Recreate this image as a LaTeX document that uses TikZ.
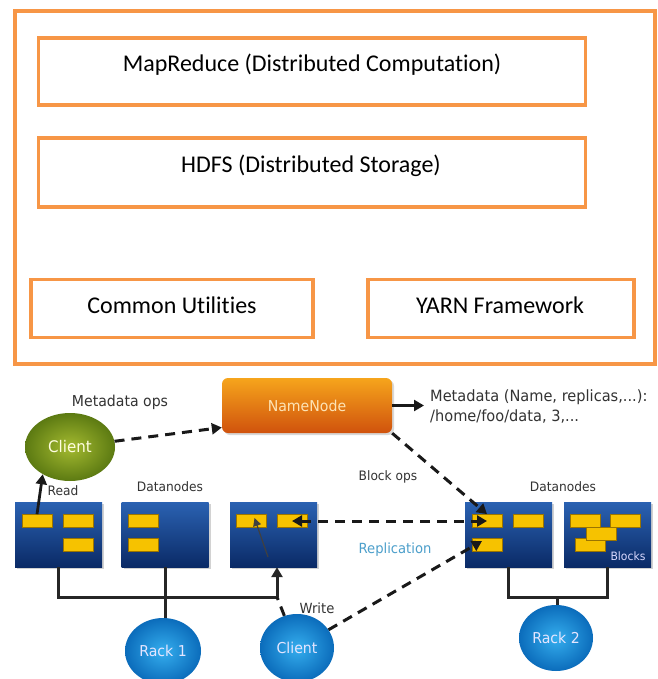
\documentclass[tikz,border=0pt]{standalone}
\usepackage{fontspec}
\setmainfont{Carlito}[Ligatures={NoCommon}]
\newfontfamily\dv[FakeStretch=0.94]{DejaVu Sans}
\usetikzlibrary{shapes.geometric,arrows.meta,shadows}
\definecolor{ora}{HTML}{F79646}
\definecolor{navyT}{HTML}{2B62B2}
\definecolor{navyB}{HTML}{0A2A66}
\definecolor{blkY}{HTML}{F6C200}
\definecolor{blkB}{HTML}{9A7400}
\definecolor{grnIn}{HTML}{A4BA30}
\definecolor{grnOut}{HTML}{5C7A12}
\definecolor{bluIn}{HTML}{35AEEE}
\definecolor{bluOut}{HTML}{0B6CBB}
\definecolor{nnT}{HTML}{F6A51C}
\definecolor{nnB}{HTML}{D0520D}
\definecolor{nnTxt}{HTML}{FDE3B5}
\definecolor{repl}{HTML}{4C9FCB}
\definecolor{labc}{HTML}{333333}
\begin{document}
\begin{tikzpicture}[x=1pt,y=-1pt,
  obox/.style={draw=ora, line width=3.5pt, rectangle, inner sep=0pt},
  toptext/.style={font=\fontsize{24}{28}\selectfont, anchor=base, inner sep=0pt, text=black},
  dnode/.style={rectangle, minimum width=87pt, minimum height=65pt, inner sep=0pt,
    top color=navyT, bottom color=navyB,
    drop shadow={opacity=0.35, shadow xshift=2pt, shadow yshift=-2pt}},
  blk/.style={rectangle, minimum width=30pt, minimum height=13pt, inner sep=0pt,
    fill=blkY, draw=blkB, line width=0.7pt},
  rackn/.style={ellipse, inner sep=0pt, inner color=bluIn, outer color=bluOut,
    text=white!90!blue, font=\dv\fontsize{15}{17}\selectfont},
  lab/.style={font=\dv\fontsize{13}{15}\selectfont, text=labc, inner sep=0pt, anchor=base},
  busline/.style={line width=3pt, draw=black!85},
  tipshape/.style={-{Triangle[length=10pt,width=11pt]}},
  dasharr/.style={line width=3pt, draw=black!90, dash pattern=on 10pt off 7pt,
    -{Triangle[length=10pt,width=11pt]}},
  dashline/.style={line width=3pt, draw=black!90, dash pattern=on 10pt off 7pt},
  solidarr/.style={line width=2.8pt, draw=black!90, -{Triangle[length=10pt,width=11pt]}},
  thinarr/.style={line width=1.2pt, draw=black!75, -{Triangle[length=8pt,width=8pt]}}
]
\useasboundingbox (0,0) rectangle (657,679);
\fill[white] (0,0) rectangle (657,679);

% ---------- top architecture ----------
\node[obox, minimum width=640pt, minimum height=353pt] (outer) at (335,187.5) {};
\node[obox, minimum width=547pt, minimum height=67pt] (mr) at (312,71.5) {};
\node[obox, minimum width=547pt, minimum height=69pt] (hdfs) at (312,172.5) {};
\node[obox, minimum width=282pt, minimum height=58pt] (cu) at (172,308.5) {};
\node[obox, minimum width=266pt, minimum height=58pt] (yarn) at (501,308.5) {};
\node[toptext] (mrt) at (312,72) {MapReduce (Distributed Computation)};
\node[toptext] (hdfst) at (311,172) {HDFS (Distributed Storage)};
\node[toptext] (cut) at (172,313) {Common Utilities};
\node[toptext] (yarnt) at (500,313) {YARN Framework};

% ---------- HDFS diagram ----------
\node[rectangle, rounded corners=6pt, minimum width=170pt, minimum height=55pt, inner sep=0pt,
  top color=nnT, bottom color=nnB, text=nnTxt, font=\dv\fontsize{15}{17}\selectfont,
  drop shadow={opacity=0.3, shadow xshift=2pt, shadow yshift=-2pt}] (nn) at (307,405.5) {NameNode};

\node[ellipse, inner sep=0pt, minimum width=90pt, minimum height=68pt,
  inner color=grnIn, outer color=grnOut, text=white!88!yellow,
  font=\dv\fontsize{16}{18}\selectfont] (client) at (70,447) {Client};

\node[dnode] (dn1) at (58.5,534.5) {};
\node[dnode] (dn2) at (165,534.5) {};
\node[dnode] (dn3) at (273.5,534.5) {};
\node[dnode] (dn4) at (508.5,534.5) {};
\node[dnode] (dn5) at (607.5,534.5) {};

\node[blk] (b11) at (37,521) {};
\node[blk] (b12) at (78,521) {};
\node[blk] (b13) at (78,545) {};
\node[blk] (b21) at (143.5,521) {};
\node[blk] (b22) at (143.5,545) {};
\node[blk] (b31) at (251.5,521) {};
\node[blk] (b32) at (292,521) {};
\node[blk] (b41) at (487,521) {};
\node[blk] (b42) at (528,521) {};
\node[blk] (b43) at (487,545) {};
\node[blk] (b51) at (585,521) {};
\node[blk] (b52) at (625,521) {};
\node[blk] (b54) at (590,545) {};
\node[blk] (b53) at (601,533.5) {};

\node[rackn, minimum width=76pt, minimum height=66pt] (rack1) at (163,651) {Rack 1};
\node[rackn, minimum width=74pt, minimum height=68pt] (client2) at (297,648) {Client};
\node[rackn, minimum width=74pt, minimum height=66pt] (rack2) at (556,638) {Rack 2};

% labels
\node[lab, font=\dv\fontsize{15}{17}\selectfont] (lmo) at (120,406) {Metadata ops};
\node[lab] (lread) at (63,495) {Read};
\node[lab] (ldn1) at (170,491) {Datanodes};
\node[lab] (lbo) at (388,480) {Block ops};
\node[lab] (ldn2) at (563,491) {Datanodes};
\node[lab, font=\dv\fontsize{14}{16}\selectfont, text=repl] (lrep) at (395,553) {Replication};
\node[lab, font=\dv\fontsize{11.5}{13}\selectfont, text=white!85!blue] (lblk) at (628,560) {Blocks};
\node[lab, font=\dv\fontsize{14}{16}\selectfont] (lwr) at (317,613) {Write};
\node[anchor=west, align=left, inner xsep=6pt, inner ysep=0pt, text=labc,
  font=\dv\fontsize{15.5}{20}\selectfont] (meta) at (424,407)
  {Metadata (Name, replicas,...):\\/home/foo/data, 3,...};

% coordinates
\coordinate (bus1) at (163,597);
\coordinate (bus2) at (557,597);
\coordinate (wcorner) at (277,597);
\coordinate (w3) at (268,557);
\coordinate (wt) at (482,541);

% buses
\draw[busline] (dn1.south) |- (wcorner);
\draw[busline, tipshape] (wcorner) -- (wcorner |- dn3.south);
\draw[busline] (dn2.south) -- (dn2.south |- rack1.north);
\draw[busline] (dn4.south) |- (bus2) -| (dn5.south);
\draw[busline] (bus2) -- (bus2 |- rack2.north);

% arrows
\draw[dasharr] (client) -- ([yshift=-22pt]nn.west);
\draw[solidarr] (nn.east) -- (nn.east -| meta.west);
\draw[dasharr] (nn.south east) -- (b41.north);
\draw[dashline, {Triangle[length=10pt,width=11pt]}-{Triangle[length=10pt,width=11pt]}] (b32.center) -- (b41.center);
\draw[solidarr] (b11.north) -- (client.225);
\draw[dashline] (client2) -- (wcorner);
\draw[thinarr] (w3) -- ([xshift=3pt,yshift=3pt]b31.center);
\draw[dasharr] (client2) -- (wt);
\end{tikzpicture}
\end{document}
